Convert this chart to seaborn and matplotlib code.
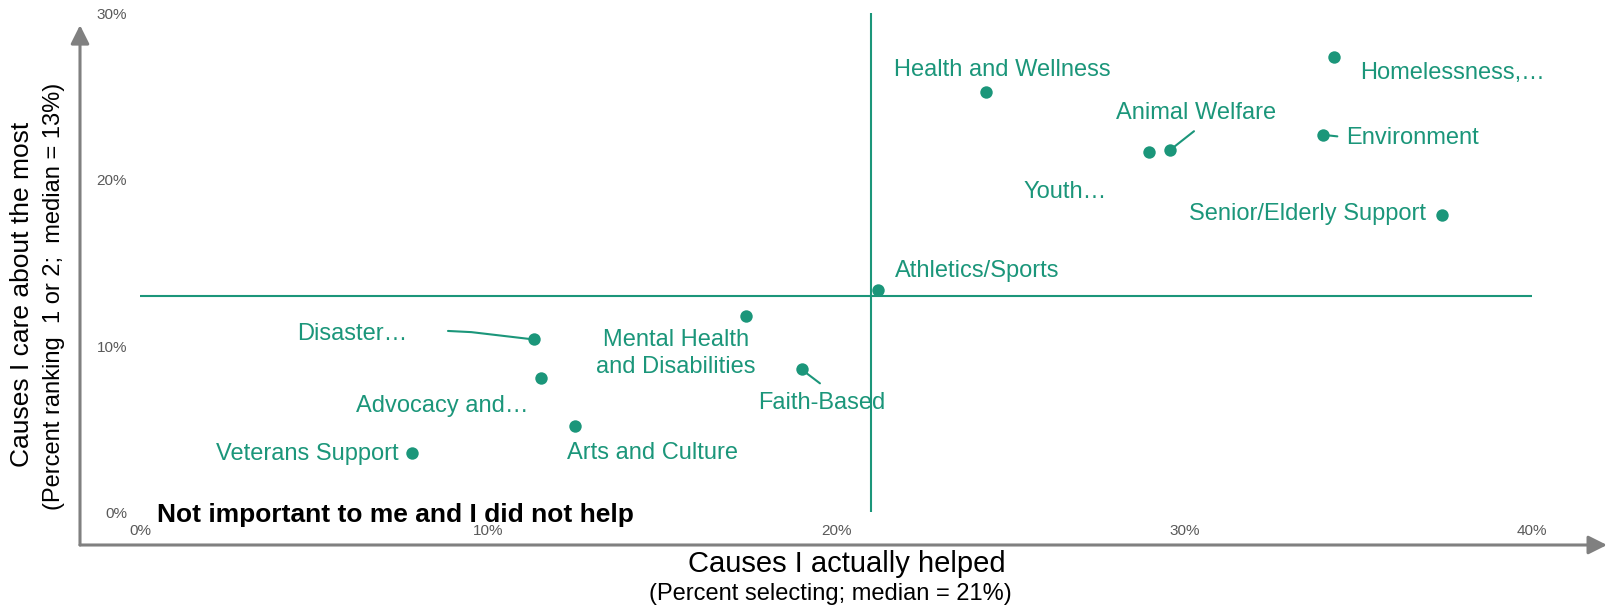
import numpy as np
import pandas as pd
import matplotlib
matplotlib.use("Agg")
import matplotlib.pyplot as plt
import seaborn as sns

# ---------------- data ----------------
causes = ["Homelessness,…", "Health and Wellness", "Environment", "Animal Welfare",
          "Youth…", "Senior/Elderly Support", "Athletics/Sports",
          "Mental Health\nand Disabilities", "Disaster…", "Advocacy and…",
          "Faith-Based", "Arts and Culture", "Veterans Support"]
helped = [34.3, 24.3, 34.0, 29.6, 29.0, 37.4, 21.2, 17.4, 11.3, 11.5, 19.0, 12.5, 7.8]
care = [27.4, 25.3, 22.7, 21.8, 21.7, 17.9, 13.4, 11.8, 10.4, 8.1, 8.6, 5.2, 3.6]
median_helped = 21
median_care = 13
x_ticks = [0, 10, 20, 30, 40]
x_tick_labels = ["0%", "10%", "20%", "30%", "40%"]
y_ticks = [0, 10, 20, 30]
y_tick_labels = ["0%", "10%", "20%", "30%"]

# ---------------- layout (label placement, in data units) ----------------
label_layout = {
    "Homelessness,…": (35.05, 26.43, "left"),
    "Health and Wellness": (21.65, 26.62, "left"),
    "Environment": (34.64, 22.49, "left"),
    "Animal Welfare": (30.34, 24.03, "center"),
    "Youth…": (26.57, 19.29, "center"),
    "Senior/Elderly Support": (36.94, 17.93, "right"),
    "Athletics/Sports": (21.68, 14.54, "left"),
    "Mental Health\nand Disabilities": (15.40, 9.55, "center"),
    "Disaster…": (7.66, 10.72, "right"),
    "Advocacy and…": (11.16, 6.40, "right"),
    "Faith-Based": (19.59, 6.58, "center"),
    "Arts and Culture": (14.73, 3.55, "center"),
    "Veterans Support": (7.42, 3.50, "right"),
}
leaders = {
    "Disaster…": [(9.51, 10.84), (8.84, 10.91)],
    "Faith-Based": [(19.53, 7.76)],
    "Animal Welfare": [(30.28, 22.92)],
    "Environment": [(34.40, 22.61)],
}

GREEN = "#1b967a"
GRAY = "#808080"
TICK_GRAY = "#595959"

sns.set_theme(style="white")
plt.rcParams["font.family"] = ["Liberation Sans", "DejaVu Sans"]

W, H = 1607, 607
fig = plt.figure(figsize=(W / 100, H / 100), dpi=100)
left_px, bottom_px = 80, 545
ax = fig.add_axes([left_px / W, (H - bottom_px) / H, (W - left_px) / W, bottom_px / H])
ax.set_xlim(-1.736, 42.15)
ax.set_ylim(-1.96, 30.81)
for s in ax.spines.values():
    s.set_visible(False)

df = pd.DataFrame({"cause": causes, "helped": helped, "care": care})

# median lines
ax.vlines(median_helped, y_ticks[0], y_ticks[-1], color=GREEN, lw=1.5, zorder=1)
ax.hlines(median_care, x_ticks[0], x_ticks[-1], color=GREEN, lw=1.5, zorder=1)

sns.scatterplot(data=df, x="helped", y="care", color=GREEN, s=80, linewidth=0,
                ax=ax, zorder=3, legend=False)

# labels and leader lines
for name, hx, cy in zip(causes, helped, care):
    lx, ly, ha = label_layout[name]
    ax.text(lx, ly, name, ha=ha, va="center", color=GREEN, fontsize=17,
            linespacing=1.3, zorder=4)
    if name in leaders:
        pts = [(hx, cy)] + leaders[name]
        ax.plot([p[0] for p in pts], [p[1] for p in pts], color=GREEN, lw=1.5,
                zorder=2, solid_joinstyle="round")

# arrow axes
x0, y0 = ax.get_xlim()[0], ax.get_ylim()[0]
arrow_kw = dict(arrowstyle="-|>,head_length=0.8,head_width=0.4", color=GRAY, lw=2.2,
                shrinkA=0, shrinkB=0, mutation_scale=14)
ax.annotate("", xy=(ax.get_xlim()[1], y0), xytext=(x0, y0), arrowprops=arrow_kw,
            annotation_clip=False)
ax.annotate("", xy=(x0, 29.3), xytext=(x0, y0), arrowprops=arrow_kw,
            annotation_clip=False)

# ticks
ax.set_xticks(x_ticks)
ax.set_xticklabels(x_tick_labels)
ax.set_yticks(y_ticks)
ax.set_yticklabels(y_tick_labels)
ax.tick_params(axis="x", length=0, pad=-15, labelsize=11, labelcolor=TICK_GRAY)
ax.tick_params(axis="y", length=0, pad=-34, labelsize=11, labelcolor=TICK_GRAY)
ax.set_xlabel("")
ax.set_ylabel("")
ax.grid(False)

ax.text(0.48, -0.57, "Not important to me and I did not help", ha="left", va="baseline",
        fontsize=19, fontweight="bold", color="black")

# axis titles
fig.text(0.527, 0.0705, "Causes I actually helped", ha="center", va="center",
         fontsize=21, color="black")
fig.text(0.517, 0.0214, "(Percent selecting; median = 21%)", ha="center", va="center",
         fontsize=17, color="black")
fig.text(0.014, 0.515, "Causes I care about the most", ha="center", va="center",
         rotation=90, fontsize=19, color="black")
fig.text(0.0333, 0.511, "(Percent ranking  1 or 2;  median = 13%)", ha="center",
         va="center", rotation=90, fontsize=17, color="black")

fig.savefig("out.png", dpi=100)
